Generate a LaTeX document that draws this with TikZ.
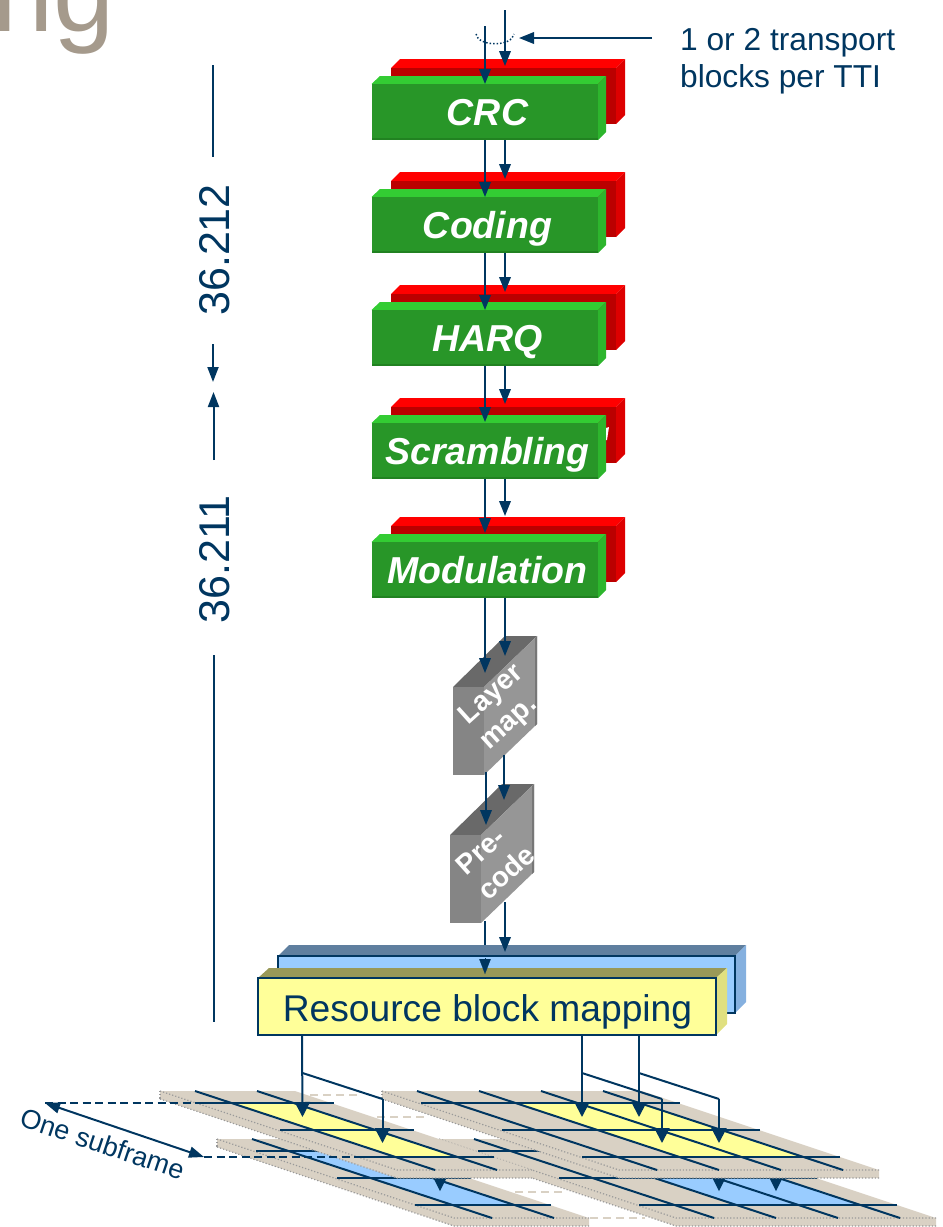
\documentclass[tikz,border=0pt]{standalone}
\usepackage{fontspec}
\setmainfont{Liberation Sans}
\usetikzlibrary{arrows.meta,calc}
\definecolor{navy}{HTML}{003660}
\definecolor{gfront}{HTML}{289628}
\definecolor{gtop}{HTML}{33CC33}
\definecolor{gside}{HTML}{2DB52D}
\definecolor{gbot}{HTML}{218221}
\definecolor{rfront}{HTML}{BB0000}
\definecolor{rtop}{HTML}{FF0000}
\definecolor{rside}{HTML}{DD0000}
\definecolor{gyfront}{HTML}{858585}
\definecolor{gytop}{HTML}{696969}
\definecolor{gyside}{HTML}{969696}
\definecolor{gyedge}{HTML}{777777}
\definecolor{blfront}{HTML}{99CCFF}
\definecolor{bltop}{HTML}{5F7F9F}
\definecolor{blside}{HTML}{85B0DF}
\definecolor{yefront}{HTML}{FFFF99}
\definecolor{yetop}{HTML}{999958}
\definecolor{yeside}{HTML}{E0E080}
\definecolor{tan}{HTML}{D9D1C4}
\definecolor{titlegray}{HTML}{A59A8C}
\tikzset{
  conn/.style={draw=navy,line width=2pt,-{Triangle[length=15pt,width=11.5pt]}},
  gridconn/.style={draw=navy,line width=2pt,-{Triangle[length=15pt,width=15pt]}},
  plain/.style={draw=navy,line width=2pt},
  dimarrow/.style={draw=navy,line width=2pt,-{Triangle[length=15pt,width=11pt]}},
  gridline/.style={draw=navy,line width=2pt},
  greenfront/.style={fill=gfront,minimum width=226.5pt,minimum height=56pt,inner sep=0pt},
  redfront/.style={fill=rfront,minimum width=225pt,minimum height=56pt,inner sep=0pt},
  whitelabel/.style={text=white,font=\fontsize{28}{28}\selectfont\bfseries,inner sep=0pt,rotate=42},
  navylabel/.style={text=navy,inner sep=0pt},
  planeedge/.style={draw=gray!80,line width=1.2pt,dash pattern=on 1.2pt off 2pt},
  linkdash/.style={draw=tan,line width=1.5pt,dash pattern=on 8pt off 5pt},
  navydash/.style={draw=navy,line width=2pt,dash pattern=on 8pt off 4.5pt},
}
% #1 name, #2 y of green front top, #3 text
\newcommand{\greenblock}[3]{%
  \pgfmathsetmacro{\yt}{#2}
  \pgfmathsetmacro{\rt}{#2-16}
  \fill[rtop] (391,\rt) -- (400,\rt-9) -- (625,\rt-9) -- (616,\rt) -- cycle;
  \fill[rside] (616,\rt) -- (625,\rt-9) -- (625,\rt+47) -- (616,\rt+56) -- cycle;
  \node[redfront] (#1r) at (503.5,\rt+28) {};
  \fill[gtop] (371.5,\yt) -- (380,\yt-8) -- (606,\yt-8) -- (598,\yt) -- cycle;
  \fill[gside] (598,\yt) -- (606,\yt-8) -- (606,\yt+48) -- (598,\yt+56) -- cycle;
  \node[greenfront] (#1) at (484.75,\yt+28) {};
  \fill[gbot] (371.5,\yt+54) rectangle (598,\yt+56);
  \node[text=white,inner sep=0pt,font=\fontsize{37.5}{38}\selectfont\bfseries\itshape,anchor=base] (#1t) at (487.5,\yt+41.5) {#3};
}
% #1 name, #2 x left, #3 y top of front
\newcommand{\greyblock}[3]{%
  \pgfmathsetmacro{\xa}{#2}\pgfmathsetmacro{\ya}{#3}
  \fill[gytop] (\xa,\ya) -- (\xa+52,\ya-51) -- (\xa+84,\ya-51) -- (\xa+31,\ya) -- cycle;
  \fill[gyside] (\xa+31,\ya) -- (\xa+84,\ya-51) -- (\xa+84,\ya+37) -- (\xa+31,\ya+88) -- cycle;
  \fill[gyedge] (\xa+82,\ya-49) -- (\xa+84,\ya-51) -- (\xa+84,\ya+37) -- (\xa+82,\ya+39) -- cycle;
  \path[fill=gyfront] (\xa,\ya) rectangle (\xa+31,\ya+88);
  \coordinate (#1) at (\xa+15,\ya+44);
}
% #1 y of top edge, #2 x of left corner, #3 width
\newcommand{\plane}[3]{%
  \pgfmathsetmacro{\ya}{#1}\pgfmathsetmacro{\xa}{#2}\pgfmathsetmacro{\wa}{#3}
  \fill[tan] (\xa,\ya) -- (\xa+\wa,\ya) -- (\xa+\wa+237,\ya+79) -- (\xa+\wa+237,\ya+87) -- (\xa+237,\ya+87) -- (\xa,\ya+8) -- cycle;
  \draw[planeedge] (\xa,\ya) -- (\xa,\ya+8);
  \draw[planeedge] (\xa,\ya) -- (\xa+237,\ya+79) -- (\xa+\wa+237,\ya+79);
  \draw[planeedge] (\xa,\ya+8) -- (\xa+237,\ya+87) -- (\xa+\wa+237,\ya+87);
}
\begin{document}
\begin{tikzpicture}[x=1pt,y=-1pt,line join=miter]
\useasboundingbox (0,0) rectangle (943,1227);
\begin{scope}
\clip (0,0) rectangle (943,1227);
\node[text=titlegray,inner sep=0pt,anchor=base west,font=\fontsize{110}{110}\selectfont] (title) at (-8,31) {ng};

% ---------- stacked processing blocks
\greenblock{crc}{84}{CRC}
\greenblock{coding}{197}{Coding}
\greenblock{harq}{310}{HARQ}
\greenblock{scr}{423}{Scrambling}
\fill[white] (606,428) -- (609,427) -- (607,440) -- (606,440) -- cycle;
\greenblock{mod}{542}{Modulation}

% ---------- layer map / precode
\greyblock{layer}{453}{687}
\greyblock{precode}{450}{835}
\node[whitelabel] (layertxt) at (492,695) {Layer};
\node[whitelabel] (maptxt) at (510.5,725) {map.};
\node[whitelabel] (pretxt) at (480.5,851) {Pre-};
\node[whitelabel] (codetxt) at (506,872) {code};

% ---------- left line into the resource-block blocks passes behind them
\coordinate (pl) at (485,921);
\coordinate (pr) at (505,902);
\coordinate (bltopl) at (485,946);
\draw[plain] (pl) -- (bltopl);

% ---------- resource block mapping
\fill[bltop] (278,956) -- (289,945) -- (746,945) -- (735,956) -- cycle;
\fill[blside] (735,956) -- (746,945) -- (746,1002) -- (735,1013) -- cycle;
\node[fill=blfront,draw=navy,line width=1.8pt,minimum width=457pt,minimum height=57pt,inner sep=0pt] (rbblue) at (506.5,984.5) {};
\fill[yetop] (258,978) -- (269,968) -- (727,968) -- (716,978) -- cycle;
\fill[yeside] (716,978) -- (727,968) -- (727,1024) -- (716,1035) -- cycle;
\node[fill=yefront,draw=navy,line width=1.8pt,minimum width=458pt,minimum height=57pt,inner sep=0pt] (rb) at (487,1006.5) {};
\node[text=navy,inner sep=0pt,anchor=base,font=\fontsize{37.2}{37}\selectfont] (rbtxt) at (487.5,1021) {Resource block mapping};

% ---------- connectors down the chain
\coordinate (in1) at (485,26);
\coordinate (in2) at (505,10);
\foreach \nm/\tipa/\tipb in {crc/84/66,coding/197/179,harq/310/292,scr/422/404,mod/533/516}{
  \coordinate (t1\nm) at (485,\tipa);
  \coordinate (t2\nm) at (505,\tipb);
}
\draw[conn] (in1) -- (t1crc);
\draw[conn] (in2) -- (t2crc);
\foreach \a/\b in {crc/coding,coding/harq,harq/scr,scr/mod}{
  \draw[conn] (\a.south -| t1crc) -- (t1\b);
  \draw[conn] (\a.south -| t2crc) -- (t2\b);
}
\coordinate (ll) at (485,673);
\coordinate (lr) at (505,656);
\draw[conn] (mod.south -| ll) -- (ll);
\draw[conn] (mod.south -| lr) -- (lr);
\coordinate (ls) at (486,772);
\coordinate (lt) at (486,825);
\coordinate (ms) at (504,755);
\coordinate (mt) at (504,800);
\draw[conn] (ls) -- (lt);
\draw[conn] (ms) -- (mt);
\coordinate (bh) at (485,958);
\coordinate (bt) at (485,974);
\draw[conn,line width=0.1pt] (bh) -- (bt);
\coordinate (rt) at (505,952);
\draw[conn] (pr) -- (rt);

% ---------- callout
\draw[navy,line width=1.5pt,dash pattern=on 1.5pt off 2pt] (476,34) .. controls (478,47) and (512,47) .. (514,34);
\coordinate (calloutstart) at (652,38);
\coordinate (callouttip) at (519,38);
\draw[conn] (calloutstart) -- (callouttip);
\node[navylabel,anchor=base west,font=\fontsize{31.7}{37}\selectfont] (lab) at (680,50.5) {1 or 2 transport};
\node[navylabel,anchor=base west,font=\fontsize{31.7}{37}\selectfont] (lab2) at (680,87.5) {blocks per TTI};

% ---------- spec dimensions
\node[navylabel,rotate=90,font=\fontsize{43}{43}\selectfont] (s212) at (215,250) {36.212};
\node[navylabel,rotate=90,font=\fontsize{43}{43}\selectfont] (s211) at (215,559.5) {36.211};
\coordinate (d1) at (213,65);
\coordinate (d2) at (213,157);
\coordinate (d3) at (213,344);
\coordinate (d4) at (213,382);
\coordinate (d5) at (213.5,460);
\coordinate (d6) at (213.5,392);
\coordinate (d7) at (213.5,655);
\coordinate (d8) at (213.5,1022);
\draw[plain] (d1) -- (d2);
\draw[dimarrow] (d3) -- (d4);
\draw[dimarrow] (d5) -- (d6);
\draw[plain] (d7) -- (d8);

% ---------- resource grids, lower row
\plane{1139}{217}{135}
\draw[linkdash] (367,1143) -- (417,1143);
\plane{1139}{439}{260}
\draw[linkdash] (515,1192) -- (565,1192);
\draw[linkdash] (590,1218) -- (645,1218);
\fill[blfront] (252+36,1151) -- (314+36,1151) -- (314+199,1205) -- (252+199,1205) -- cycle;
\fill[blfront] (536+36,1151) -- (660+36,1151) -- (660+199,1205) -- (536+199,1205) -- cycle;
\foreach \xa/\ya/\xb/\yb in {256/1151/391/1151,337/1178/471/1178,415/1205/551/1205,
  478/1151/738/1151,559/1178/817/1178,639/1205/897/1205,
  252/1139/492/1218,314/1139/554/1218,474/1139/714/1218,536/1139/776/1218,598/1139/838/1218,660/1139/900/1218}
  \draw[gridline] (\xa,\ya) -- (\xb,\yb);
\foreach \hx in {440,719,776}
  \fill[navy] (\hx-7.5,1176) -- (\hx+7.5,1176) -- (\hx,1191) -- cycle;

% ---------- resource grids, upper row
\plane{1091}{160}{135}
\draw[linkdash] (310,1095) -- (360,1095);
\draw[linkdash] (377,1117) -- (427,1117);
\fill[yefront] (195+36,1103) -- (257+36,1103) -- (257+199,1157) -- (195+199,1157) -- cycle;
\plane{1091}{382}{260}
\fill[yefront] (479+36,1103) -- (603+36,1103) -- (603+199,1157) -- (479+199,1157) -- cycle;
\foreach \xa/\ya/\xb/\yb in {199/1103/334/1103,280/1130/414/1130,358/1157/494/1157,
  421/1103/680/1103,502/1130/760/1130,582/1157/840/1157,
  195/1091/435/1170,257/1091/497/1170,417/1091/657/1170,479/1091/719/1170,541/1091/781/1170,603/1091/843/1170}
  \draw[gridline] (\xa,\ya) -- (\xb,\yb);

% ---------- one subframe
\coordinate (sfa) at (45,1103);
\coordinate (sfb) at (204,1157);
\coordinate (sfae) at (199,1103);
\coordinate (sfbe) at (358,1157);
\draw[navydash] (sfa) -- (sfae);
\draw[navydash] (sfb) -- (sfbe);
\draw[draw=navy,line width=2pt,{Triangle[length=15pt,width=11pt]}-{Triangle[length=15pt,width=11pt]}] (sfa) -- (sfb);
\node[navylabel,rotate=-18.5,font=\fontsize{27}{27}\selectfont] (sftext) at (102.5,1143.5) {One subframe};

% ---------- mapping arrows onto the grid
\coordinate (m1) at (302,1036);
\coordinate (m2) at (582,1036);
\coordinate (m3) at (639,1036);
\foreach \mm/\xx in {m1/302.5,m2/582,m3/639}{
  \coordinate (a\mm) at (\xx,1117);
  \coordinate (b\mm) at (\xx,1073);
  \coordinate (c\mm) at (\xx+80,1099);
  \coordinate (d\mm) at (\xx+80,1143);
}
\foreach \mm in {m1,m2,m3}{
  \draw[gridconn] (\mm |- rb.south) -- (a\mm);
  \draw[plain] (b\mm) -- (c\mm);
  \draw[gridconn] (c\mm) -- (d\mm);
}
\end{scope}
\end{tikzpicture}
\end{document}
